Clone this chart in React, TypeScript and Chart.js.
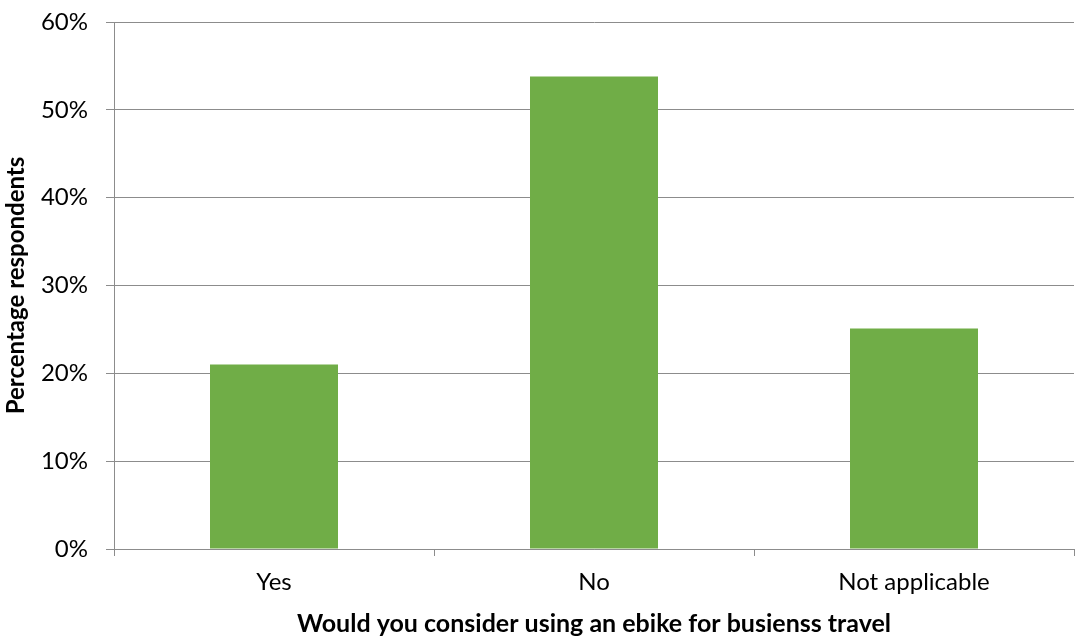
import React, { useEffect, useRef } from "react";
import { Chart, registerables } from "chart.js";

Chart.register(...registerables);

const categories = ["Yes", "No", "Not applicable"];
const percentValues = [21.0, 53.8, 25.1];
const yTickMax = 60;
const yTickStep = 10;
const xTitle = "Would you consider using an ebike for busienss travel";
const yTitle = "Percentage respondents";

const FONT = "Lato, 'Open Sans', sans-serif";
const GRID = "#8c8c8c";

export default function App() {
  const ref = useRef<HTMLCanvasElement | null>(null);
  useEffect(() => {
    if (!ref.current) return;
    const chart = new Chart(ref.current, {
      type: "bar",
      data: {
        labels: categories,
        datasets: [
          {
            data: percentValues,
            backgroundColor: "#70AD47",
            borderWidth: 0,
            barPercentage: 0.4,
            categoryPercentage: 1,
          },
        ],
      },
      options: {
        animation: false,
        responsive: true,
        maintainAspectRatio: false,
        layout: { padding: { left: 0, right: 4, top: 22, bottom: 0 } },
        plugins: { legend: { display: false }, tooltip: { enabled: false } },
        scales: {
          x: {
            offset: true,
            grid: {
              offset: true,
              drawOnChartArea: false,
              drawTicks: true,
              tickLength: 7,
              color: GRID,
            },
            border: { color: GRID, width: 1 },
            ticks: {
              color: "#000",
              font: { family: FONT, size: 24 },
              padding: 12,
            },
            title: {
              display: true,
              text: xTitle,
              color: "#000",
              font: { family: FONT, size: 25, weight: "bold" },
              padding: { top: 4, bottom: 0 },
            },
            afterFit: (s: any) => {
              s.height = 90;
              s.paddingLeft = 0;
              s.paddingRight = 0;
            },
          },
          y: {
            min: 0,
            max: yTickMax,
            grid: { color: GRID, tickLength: 8, drawTicks: true },
            border: { color: GRID, width: 1 },
            ticks: {
              stepSize: yTickStep,
              color: "#000",
              font: { family: FONT, size: 24 },
              padding: 18,
              callback: (v: any) => `${v}%`,
            },
            title: {
              display: true,
              text: yTitle,
              color: "#000",
              font: { family: FONT, size: 24, weight: "bold" },
              padding: { top: 2, bottom: 0 },
            },
            afterFit: (s: any) => {
              s.width = 114;
              s.paddingTop = 0;
              s.paddingBottom = 0;
            },
          },
        },
      },
    });
    return () => chart.destroy();
  }, []);
  return (
    <div style={{ position: "fixed", left: 0, top: 0, width: 1078, height: 639, background: "#fff" }}>
      <canvas ref={ref} />
    </div>
  );
}
